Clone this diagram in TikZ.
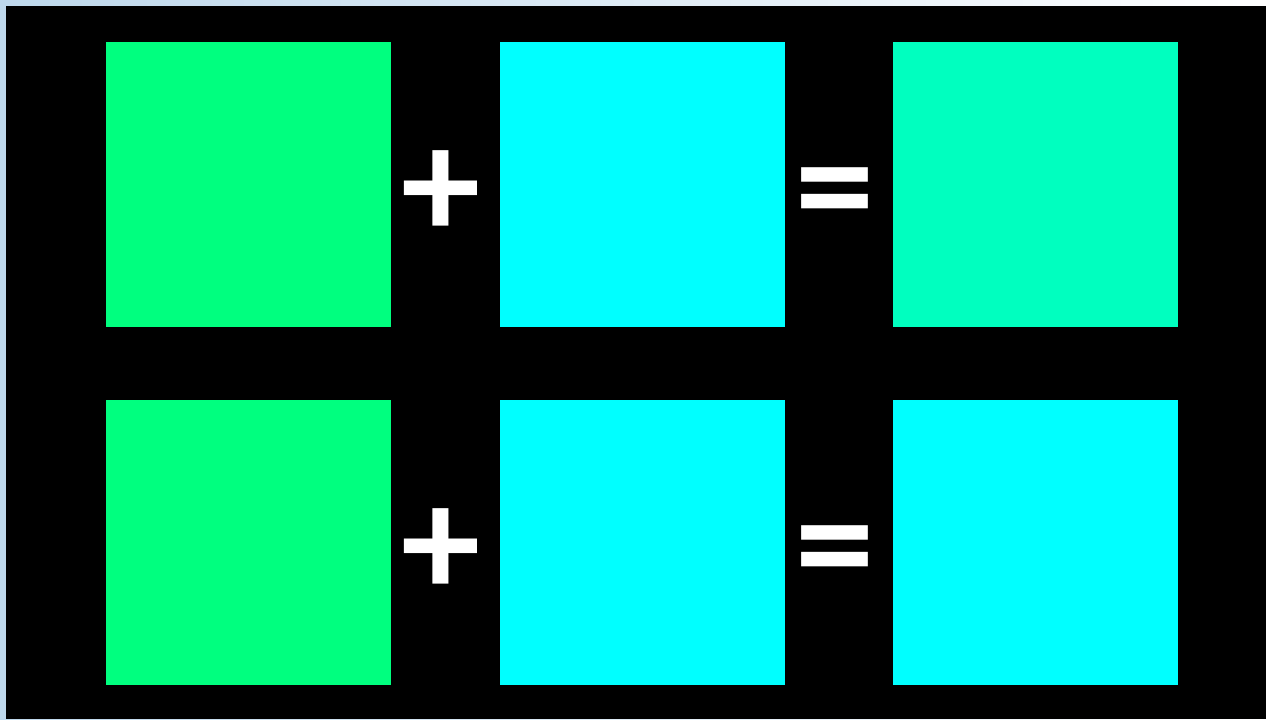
\documentclass[tikz,border=0pt]{standalone}
\usepackage{fontspec}
\setmainfont{Carlito}
\usetikzlibrary{positioning}
\definecolor{spring}{RGB}{0,255,127}
\definecolor{aqua}{RGB}{0,255,255}
\definecolor{mixed}{RGB}{0,255,191}
\definecolor{bgblue}{RGB}{190,216,236}
\tikzset{
  sq/.style  ={minimum size=213.75pt,inner sep=0pt,outer sep=0pt},
  op/.style  ={text=white,font=\fontsize{119}{119}\selectfont\bfseries,inner sep=0pt},
}

\begin{document}
\begin{tikzpicture}[x=0.75pt,y=-0.75pt]
  \useasboundingbox (0,0) rectangle (1266,719);
  \shade[left color=bgblue,right color=white] (0,0) rectangle (1266,719);
  \fill[black] (6,6) rectangle (1266,719);
  % top row
  \node[sq,fill=spring] (a1) at (248.5,184.5) {};
  \node[sq,fill=aqua]   (b1) at (642,184.5) {};
  \node[sq,fill=mixed]  (c1) at (1035,184.5) {};
  \node[op] (p1) at (441.5,194.6) {+};
  \node[op] (e1) at (835,203.4) {=};
  % bottom row
  \node[sq,fill=spring] (a2) at (248.5,542.5) {};
  \node[sq,fill=aqua]   (b2) at (642,542.5) {};
  \node[sq,fill=aqua]   (c2) at (1035,542.5) {};
  \node[op] (p2) at (441.5,552.6) {+};
  \node[op] (e2) at (835,561.4) {=};
\end{tikzpicture}
\end{document}
